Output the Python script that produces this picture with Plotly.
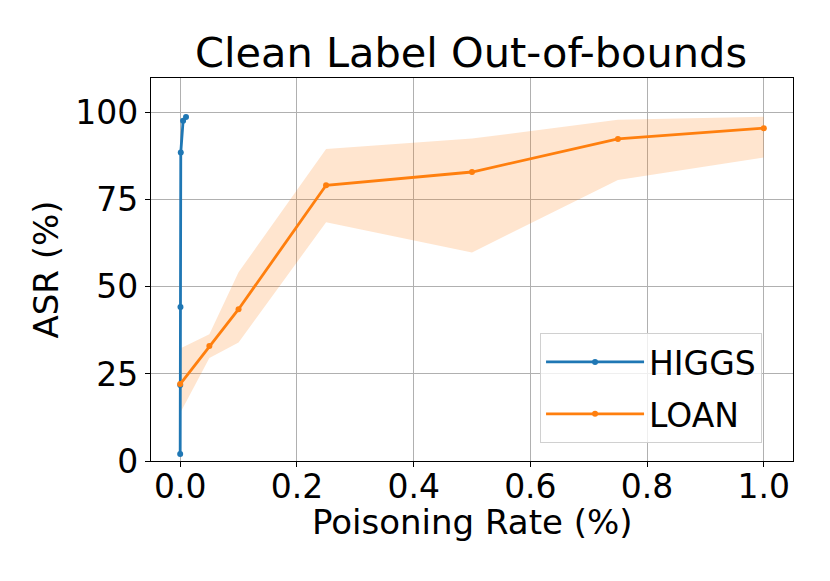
import plotly.graph_objects as go

higgs_x = [0.0, 0.0001, 0.0005, 0.001, 0.005, 0.01]
higgs_y = [2.0, 21.8, 44.2, 88.6, 97.7, 98.8]

loan_x = [0.0, 0.05, 0.1, 0.25, 0.5, 0.75, 1.0]
loan_y = [22.1, 33.0, 43.6, 79.2, 83.0, 92.5, 95.6]
loan_upper = [32.3, 36.4, 54.2, 89.6, 92.6, 98.0, 98.9]
loan_lower = [13.8, 29.6, 34.0, 68.6, 59.9, 80.7, 87.2]

x_ticks = [0.0, 0.2, 0.4, 0.6, 0.8, 1.0]
y_ticks = [0, 25, 50, 75, 100]

BLUE = "#1f77b4"
ORANGE = "#ff7f0e"
FONT = "DejaVu Sans"

fig = go.Figure()

fig.add_trace(go.Scatter(x=loan_x, y=loan_upper, mode="lines", line=dict(width=0),
                         showlegend=False, hoverinfo="skip"))
fig.add_trace(go.Scatter(x=loan_x, y=loan_lower, mode="lines", line=dict(width=0),
                         fill="tonexty", fillcolor="rgba(255,127,14,0.2)",
                         showlegend=False, hoverinfo="skip"))

fig.add_trace(go.Scatter(x=higgs_x, y=higgs_y, mode="lines+markers", name="HIGGS",
                         legendgroup="a", legendrank=1,
                         line=dict(color=BLUE, width=2.8),
                         marker=dict(color=BLUE, size=6)))
fig.add_trace(go.Scatter(x=loan_x, y=loan_y, mode="lines+markers", name="LOAN",
                         legendgroup="b", legendrank=2,
                         line=dict(color=ORANGE, width=2.8),
                         marker=dict(color=ORANGE, size=6)))

axis_common = dict(showline=True, linecolor="black", linewidth=1.1, mirror=True,
                   showgrid=True, gridcolor="#b0b0b0", gridwidth=1.1,
                   ticks="outside", ticklen=5, tickwidth=1.1, tickcolor="black",
                   zeroline=False, automargin=False,
                   tickfont=dict(family=FONT, size=33, color="black"))

fig.update_layout(
    width=830, height=581,
    margin=dict(l=151, r=37, t=78, b=120),
    paper_bgcolor="white", plot_bgcolor="white",
    font=dict(family=FONT, color="black"),
    title=dict(text="Clean Label Out-of-bounds", font=dict(family=FONT, size=41.5, color="black"),
               x=0.5675, xanchor="center", xref="container", y=1 - 52 / 581, yanchor="middle",
               yref="container", automargin=False),
    xaxis=dict(range=[-0.05, 1.05], tickvals=x_ticks, ticktext=[f"{v:.1f}" for v in x_ticks],
               ticklabelstandoff=-9,
               **axis_common),
    yaxis=dict(range=[0, 110], tickvals=y_ticks, ticktext=[str(v) for v in y_ticks],
               ticklabelstandoff=0,
               title=dict(text="ASR (%)", font=dict(family=FONT, size=34, color="black"),
                          standoff=6),
               **axis_common),
    legend=dict(x=0.606, y=0.047, xanchor="left", yanchor="bottom",
                traceorder="grouped",
                bgcolor="rgba(255,255,255,0.8)", bordercolor="#d0d0d0", borderwidth=1,
                font=dict(family=FONT, size=33, color="black"),
                itemwidth=98, tracegroupgap=6),
    annotations=[dict(text="Poisoning Rate (%)", x=0.5, xref="paper", xanchor="center",
                      y=-0.159, yref="paper", yanchor="middle", showarrow=False,
                      font=dict(family=FONT, size=34, color="black"))],
)

fig.write_html("out.html", config={"displayModeBar": False},
               post_script="document.body.style.margin='0';")
